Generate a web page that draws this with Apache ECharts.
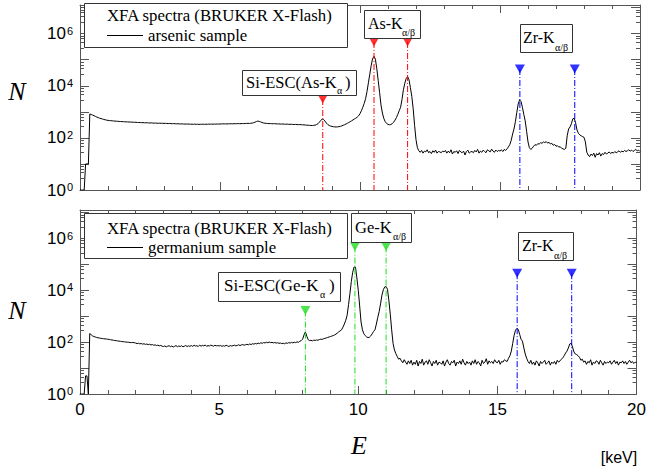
<!DOCTYPE html>
<html><head><meta charset="utf-8">
<script src="https://cdn.jsdelivr.net/npm/echarts@6/dist/echarts.min.js"></script>
<style>html,body{margin:0;padding:0;background:#fff}#c{width:649px;height:470px}</style>
</head><body><div id="c"></div>
<script>
// bin width of the spectra (keV); bin i sits at i*binWidth
const binWidth = 0.05;

// arsenic sample counts, 0.00 .. 20.00 keV (20 bins per row = 1 keV)
const arsenicCounts = [
  1,1,1,1,10,10,10,830,790,750,710,670,630,600,570,550,530,510,495,480,
  470,462,458,452,447,440,437,432,428,425,421,418,415,413,410,407,405,402,400,398,
  395,392,390,388,384,386,380,378,382,375,373,377,370,368,372,366,364,368,362,365,
  360,363,357,355,359,352,350,354,348,346,350,344,342,346,340,338,342,337,339,335,
  336,333,338,331,335,329,334,332,337,330,336,333,339,334,338,335,340,336,342,338,
  341,344,347,343,346,342,348,345,350,346,352,348,351,355,349,353,357,352,356,360,
  362,358,365,370,382,400,425,440,432,410,390,375,365,360,357,353,355,350,348,352,
  347,343,345,340,338,342,336,334,338,332,330,334,328,326,330,324,322,326,320,318,
  316,312,308,305,302,300,298,302,310,325,350,400,470,525,505,440,370,325,300,285,
  275,268,264,262,265,270,278,290,305,320,340,365,390,420,450,490,530,570,620,700,
  850,1100,1500,2100,3200,6000,13000,28000,60000,110000,135000,105000,45000,16000,5500,1800,900,560,420,360,
  330,318,325,350,400,480,600,800,1100,1500,3000,7000,12500,19000,22500,17000,8500,3900,1300,300,
  85,42,32,28,33,26,31,29,35,27,30,25,32,28,34,26,30,29,27,31,
  29,33,26,31,27,35,24,30,28,32,25,33,29,27,31,22,30,34,26,29,
  30,27,33,29,36,26,31,28,34,30,27,35,32,29,37,31,28,34,30,33,
  31,35,30,36,33,38,45,55,80,140,220,420,950,2000,2900,2500,1500,800,450,180,
  70,42,36,40,48,55,52,60,58,65,62,70,66,72,63,68,58,62,52,56,
  48,50,44,46,40,38,36,40,120,220,260,350,540,570,380,200,150,130,120,112,
  105,70,28,22,19,24,21,26,18,25,22,27,20,25,23,28,24,26,29,25,
  28,26,30,27,29,32,28,31,29,33,30,32,35,31,34,30,33,36,32,34,
  30
];

// germanium sample counts, 0.00 .. 20.00 keV
const germaniumCounts = [
  1,1,1,1,5,5,1,215,195,175,165,158,152,148,144,141,138,136,134,132,
  130,127,124,121,119,116,114,112,110,108,106,104,103,101,100,99,97,96,98,95,
  93,88,91,86,89,84,87,82,85,80,83,78,81,76,79,74,77,72,75,70,
  68,72,66,70,73,67,71,65,69,74,67,71,68,73,66,70,74,68,72,69,
  74,69,76,71,73,68,77,70,75,72,78,69,74,71,77,73,70,76,72,74,
  71,75,69,73,70,76,72,68,74,71,73,77,72,75,79,74,78,81,76,80,
  83,79,85,81,87,84,89,86,92,88,95,90,97,93,99,95,101,96,98,94,
  97,92,95,90,93,88,91,87,94,90,96,92,98,94,100,96,103,99,108,115,
  130,190,250,170,125,115,118,112,120,116,122,118,126,130,128,135,140,146,152,158,
  165,172,180,190,205,225,250,275,300,380,500,700,1100,2800,7500,22000,50000,80000,78000,30000,
  10000,2500,600,300,210,180,160,150,155,175,210,260,300,500,900,1500,3000,6500,10500,13500,
  14000,11000,4000,1200,300,90,50,36,28,22,24,19,16,21,17,14,19,15,20,13,
  17,14,20,12,18,15,22,13,17,19,14,21,16,12,18,15,20,13,17,16,
  14,19,12,17,21,15,13,18,16,20,12,17,15,19,14,22,16,13,18,15,
  17,13,19,15,21,14,18,16,12,20,15,17,23,14,19,16,18,15,21,17,
  16,20,14,18,17,21,19,18,24,30,45,90,180,290,340,310,200,130,110,60,
  35,24,18,15,20,14,17,13,19,16,12,18,15,17,20,14,16,19,13,17,
  15,18,14,20,17,19,22,25,30,38,45,60,85,90,65,42,35,33,30,26,
  20,22,17,19,14,18,16,21,13,17,15,19,18,14,20,16,13,18,15,17,
  16,19,14,17,20,15,18,13,17,16,19,15,18,14,17,20,16,18,15,17,
  16
];

// line markers (energy in keV, marker height in counts, colour)
const topMarkerEnergy = [8.67, 10.50, 11.70, 15.71, 17.67];
const topMarkerHeight = [3100, 480000, 480000, 44000, 44000];
const topMarkerColor  = ['#ff0000','#ff0000','#ff0000','#0000ff','#0000ff'];
const botMarkerEnergy = [8.10, 9.88, 11.00, 15.71, 17.67];
const botMarkerHeight = [1660, 490000, 490000, 46000, 46000];
const botMarkerColor  = ['#22dd22','#22dd22','#22dd22','#0000ff','#0000ff'];

const xRange = [0, 20];
const yRange = [1, 12589254];
const yLabelExponents = [0, 2, 4, 6];

const FRAME = '#555';
const SERIF = '"Liberation Serif", "Times New Roman", serif';
const SANS = '"Liberation Sans", Arial, sans-serif';
const DASHDOT = [6, 2, 1, 2];

function toPairs(counts) { return counts.map((n, i) => [Number((i * binWidth).toFixed(2)), n]); }

function xAxisCfg(grid, pos, labels) {
  return {
    type: 'value', gridIndex: grid, position: pos, min: xRange[0], max: xRange[1], interval: 5,
    axisLine: { show: true, onZero: false, lineStyle: { color: FRAME, width: 1 } },
    axisTick: { show: true, inside: true, length: 8, lineStyle: { color: FRAME } },
    minorTick: { show: true, splitNumber: 5, length: 4, lineStyle: { color: FRAME } },
    splitLine: { show: false }, minorSplitLine: { show: false },
    axisLabel: { show: labels, margin: 7, color: '#000', fontSize: 17, fontFamily: SANS }
  };
}
function yAxisCfg(grid, pos, labels) {
  return {
    type: 'log', logBase: 10, gridIndex: grid, position: pos, min: yRange[0], max: yRange[1], splitNumber: 7,
    axisLine: { show: true, onZero: false, lineStyle: { color: FRAME, width: 1 } },
    axisTick: { show: true, inside: true, length: 9, lineStyle: { color: FRAME } },
    minorTick: { show: true, splitNumber: 5, length: 4, lineStyle: { color: FRAME } },
    splitLine: { show: false }, minorSplitLine: { show: false },
    axisLabel: {
      show: labels, margin: 7,
      formatter: function (v) {
        const l = Math.log10(v), e = Math.round(l);
        if (Math.abs(l - e) > 1e-6 || yLabelExponents.indexOf(e) < 0) return '';
        return '{b|10}{e|' + e + '}';
      },
      rich: {
        b: { fontSize: 17, fontFamily: SANS, color: '#000' },
        e: { fontSize: 11, fontFamily: SANS, color: '#000', verticalAlign: 'top', padding: [0, 0, 6, 1] }
      }
    }
  };
}

// one dash-dot drop line (line series) per marker + one triangle scatter per panel
function markerSeries(xi, yi, E, H, C) {
  const out = E.map((e, i) => ({
    type: 'line', xAxisIndex: xi, yAxisIndex: yi, silent: true, z: 4,
    showSymbol: false, symbol: 'none',
    data: [[e, H[i]], [e, yRange[0]]],
    lineStyle: { color: C[i], width: 1, type: DASHDOT }
  }));
  out.push({
    type: 'scatter', xAxisIndex: xi, yAxisIndex: yi, symbol: 'triangle', symbolRotate: 180,
    symbolSize: [10, 9], silent: true, z: 5,
    data: E.map((e, i) => ({ value: [e, H[i]], itemStyle: { color: C[i] } }))
  });
  return out;
}

function box(x, y, w, h) {
  return { type: 'rect', z: 100, shape: { x: x + 0.5, y: y + 0.5, width: w, height: h },
           style: { fill: '#fff', stroke: '#333', lineWidth: 1 } };
}
function txt(x, y, s, size, opts) {
  opts = opts || {};
  return { type: 'text', z: 101, x: x, y: y,
           style: { text: s, fill: '#000', font: (opts.italic ? 'italic ' : '') + size + 'px ' + (opts.sans ? SANS : SERIF),
                    align: opts.align || 'left', verticalAlign: 'middle' } };
}
function hline(x1, x2, y) {
  return { type: 'line', z: 101, shape: { x1: x1, y1: y + 0.5, x2: x2, y2: y + 0.5 }, style: { stroke: '#000', lineWidth: 1 } };
}

const graphics = [
  // top panel annotations
  box(84, 3, 263, 44), txt(107, 15, 'XFA spectra (BRUKER X-Flash)', 16.8), hline(107, 143, 35), txt(148, 35, 'arsenic sample', 16.8),
  box(364, 10, 56, 28), txt(368, 23, 'As-K', 16), txt(402, 32, 'α/β', 10),
  box(520, 24, 52, 28), txt(523, 37, 'Zr-K', 16), txt(555, 47, 'α/β', 10),
  box(242, 70, 114, 25), txt(246, 82, 'Si-ESC(As-K', 16.5), txt(337, 90, 'α', 10), txt(345, 82, ')', 16.5),
  // bottom panel annotations
  box(84, 213, 263, 45), txt(107, 228, 'XFA spectra (BRUKER X-Flash)', 16.8), hline(107, 143, 247), txt(148, 247, 'germanium sample', 16.8),
  box(351, 213, 60, 29), txt(355, 227, 'Ge-K', 16.5), txt(393, 236, 'α/β', 10),
  box(518, 232, 55, 28), txt(522, 245, 'Zr-K', 16), txt(554, 255, 'α/β', 10),
  box(218, 272, 122, 29), txt(224, 285, 'Si-ESC(Ge-K', 17), txt(320, 294, 'α', 10), txt(329, 285, ')', 17),
  // axis titles
  txt(17, 91, 'N', 26, { italic: true, align: 'center' }),
  txt(17, 310, 'N', 26, { italic: true, align: 'center' }),
  txt(359, 445, 'E', 26, { italic: true, align: 'center' }),
  txt(619, 457, '[keV]', 16, { sans: true, align: 'center' })
];

const chart = echarts.init(document.getElementById('c'), null, { renderer: 'svg', width: 649, height: 470 });
chart.setOption({
  animation: false,
  backgroundColor: '#fff',
  grid: [
    { left: 80, top: 5, width: 560, height: 185 },
    { left: 80, top: 210, width: 560, height: 184 }
  ],
  xAxis: [xAxisCfg(0, 'bottom', false), xAxisCfg(0, 'top', false), xAxisCfg(1, 'bottom', true), xAxisCfg(1, 'top', false)],
  yAxis: [yAxisCfg(0, 'left', true), yAxisCfg(0, 'right', false), yAxisCfg(1, 'left', true), yAxisCfg(1, 'right', false)],
  series: [
    { type: 'line', xAxisIndex: 0, yAxisIndex: 0, data: toPairs(arsenicCounts), showSymbol: false, symbol: 'none',
      lineStyle: { color: '#000', width: 1 }, silent: true, z: 3 },
    { type: 'line', xAxisIndex: 2, yAxisIndex: 2, data: toPairs(germaniumCounts), showSymbol: false, symbol: 'none',
      lineStyle: { color: '#000', width: 1 }, silent: true, z: 3 }
  ].concat(markerSeries(0, 0, topMarkerEnergy, topMarkerHeight, topMarkerColor))
   .concat(markerSeries(2, 2, botMarkerEnergy, botMarkerHeight, botMarkerColor)),
  graphic: graphics
});
</script></body></html>
